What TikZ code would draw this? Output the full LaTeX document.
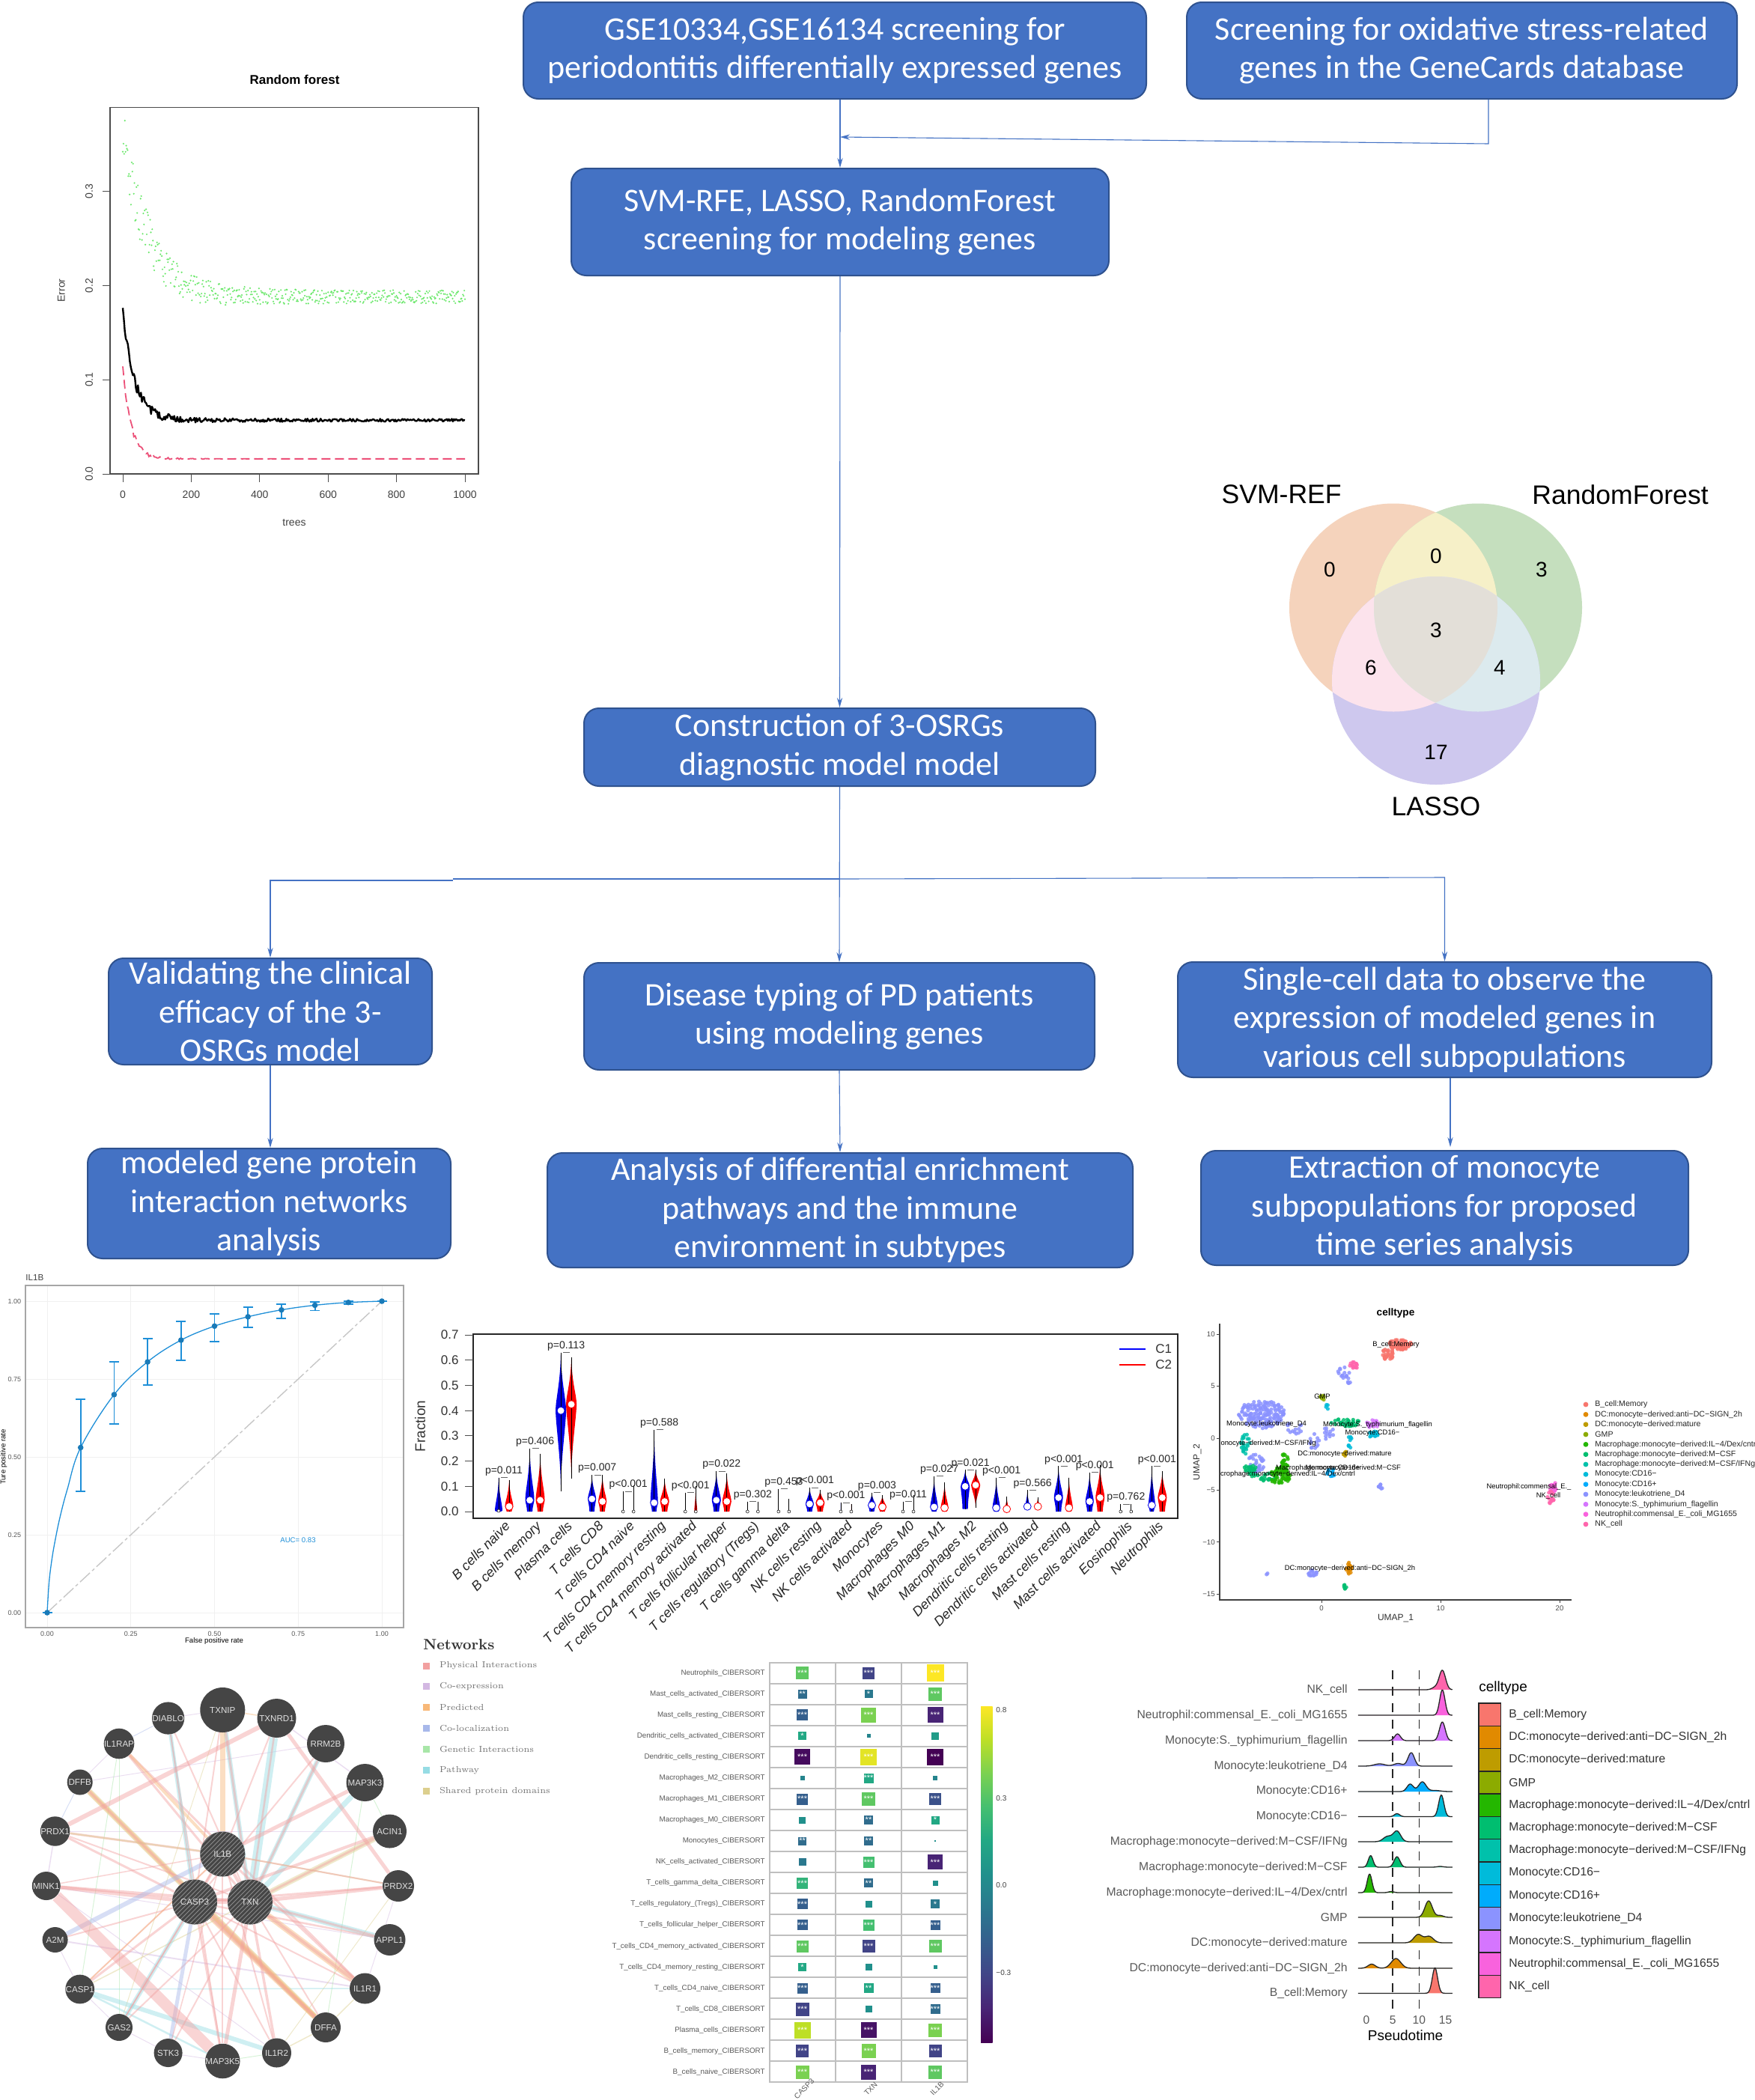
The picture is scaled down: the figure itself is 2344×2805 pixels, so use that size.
\documentclass[tikz,border=0pt]{standalone}
\usepackage{fontspec}
\setsansfont{Liberation Sans}
\newfontfamily\boxfont{Carlito}
\usetikzlibrary{arrows.meta,backgrounds,patterns}
\newcommand{\slh}{/}
\definecolor{boxblue}{HTML}{4472C4}
\definecolor{boxedge}{HTML}{2F528F}
\definecolor{flowblue}{HTML}{4472C4}
\definecolor{V0}{HTML}{440154}\definecolor{V1}{HTML}{482475}\definecolor{V2}{HTML}{414487}
\definecolor{V3}{HTML}{355F8D}\definecolor{V4}{HTML}{2A788E}\definecolor{V5}{HTML}{21908C}
\definecolor{V6}{HTML}{22A884}\definecolor{V7}{HTML}{44BF70}\definecolor{V8}{HTML}{7AD151}
\definecolor{V9}{HTML}{BDDF26}\definecolor{V10}{HTML}{FDE725}
\pgfdeclareverticalshading{viridis}{100bp}{color(0bp)=(V0); color(25bp)=(V0); color(30bp)=(V1); color(35bp)=(V2); color(40bp)=(V3); color(45bp)=(V4); color(50bp)=(V5); color(55bp)=(V6); color(60bp)=(V7); color(65bp)=(V8); color(70bp)=(V9); color(75bp)=(V10); color(100bp)=(V10)}
\definecolor{c1}{HTML}{F8766D}\definecolor{c2}{HTML}{E18A00}\definecolor{c3}{HTML}{BE9C00}
\definecolor{c4}{HTML}{8CAB00}\definecolor{c5}{HTML}{24B700}\definecolor{c6}{HTML}{00BE70}
\definecolor{c7}{HTML}{00C1AB}\definecolor{c8}{HTML}{00BBDA}\definecolor{c9}{HTML}{00ACFC}
\definecolor{c10}{HTML}{8B93FF}\definecolor{c11}{HTML}{D575FE}\definecolor{c12}{HTML}{F962DD}
\definecolor{c13}{HTML}{FF65AC}
\definecolor{ePh}{HTML}{F2A0A0}\definecolor{eCo}{HTML}{D3B8E2}\definecolor{ePr}{HTML}{F8B878}
\definecolor{eLo}{HTML}{A8B8EA}\definecolor{eGe}{HTML}{A8E6A8}\definecolor{ePa}{HTML}{96DCE4}
\definecolor{eSh}{HTML}{DCCF8E}\definecolor{geneDark}{HTML}{454545}
\definecolor{vL}{HTML}{F5D3BC}\definecolor{vR}{HTML}{C5DFBE}\definecolor{vB}{HTML}{CEC8EE}
\definecolor{vLR}{HTML}{F6F0C8}\definecolor{vLB}{HTML}{FCE3EC}\definecolor{vRB}{HTML}{DCEAEE}
\definecolor{vC}{HTML}{E3DFD8}\definecolor{rocblue}{HTML}{1E8FD8}
\definecolor{rfRed}{HTML}{EC5078}\definecolor{rfGreen}{HTML}{6CE86C}
\tikzset{
 flowbox/.style={rectangle,rounded corners=10pt,fill=boxblue,draw=boxedge,line width=1pt,text=white,align=center,inner sep=0pt,font=\boxfont\fontsize{22}{25.7}\selectfont},
 flow/.style={draw=flowblue,line width=0.55pt,-{Stealth[length=6.5pt,width=3.6pt]}},
 flowplain/.style={draw=flowblue,line width=0.55pt},
 gene/.style={circle,fill=geneDark,inner sep=0pt,text=white!88!black,font=\sffamily\fontsize{5.8}{6}\selectfont},
 hubgene/.style={gene,postaction={pattern=north east lines,pattern color=white!55!black}},
 txt/.style={inner sep=0pt,font=\sffamily\fontsize{#1}{#1}\selectfont},
 hmtile/.style={rectangle,inner sep=0pt,text=white,font=\sffamily\fontsize{5.5}{5.5}\selectfont},
 declare function={gs(\a,\m,\s)=exp(-(\a-\m)*(\a-\m)/(2*\s*\s));}
}
\newcommand{\violin}[6]{%
 \pgfmathsetmacro{\vm}{2019-337*#2}\pgfmathsetmacro{\vh}{2019-337*#3}\pgfmathsetmacro{\vl}{2019-337*#4}%
 \pgfmathsetmacro{\vs}{ifthenelse(#4>0.01,0,0.6*#5)}%
 \pgfmathsetmacro{\va}{\vl+(\vm-\vl)*0.4}\pgfmathsetmacro{\vb}{\vl+(\vm-\vl)*0.85}%
 \pgfmathsetmacro{\vc}{\vm+(\vh-\vm)*0.2}\pgfmathsetmacro{\vd}{\vm+(\vh-\vm)*0.45}%
 \fill[#6] (#1-\vs,\vl) -- (#1+\vs,\vl) .. controls (#1+\vs,\va) and (#1+#5,\vb) .. (#1+#5,\vm) .. controls (#1+#5,\vc) and (#1+0.12*#5,\vd) .. (#1,\vh) .. controls (#1-0.12*#5,\vd) and (#1-#5,\vc) .. (#1-#5,\vm) .. controls (#1-#5,\vb) and (#1-\vs,\va) .. cycle;%
 \draw[black,line width=0.4pt] (#1,\vh) -- (#1,\vl);%
 \ifdim #2pt<0.005pt
  \draw[black,fill=white,line width=0.25pt] (#1,\vm) circle[radius=2];
 \else
  \fill[white,draw=#6,line width=0.4pt] (#1,\vm) circle[radius=5];
 \fi}
\newcommand{\cldots}[6]{%
 \foreach \k in {1,...,#1}{%
  \pgfmathsetmacro{\ra}{sqrt(rnd)}\pgfmathsetmacro{\an}{360*rnd}%
  \pgfmathsetmacro{\dx}{1765+15.9*(#2+#4*\ra*cos(\an))}%
  \pgfmathsetmacro{\dy}{1921-13.87*(#3+#5*\ra*sin(\an))}%
  \fill[#6,opacity=0.85] (\dx,\dy) circle[radius=2.6];}}
\begin{document}
\begin{tikzpicture}[x=0.5pt,y=-0.5pt]
\useasboundingbox (0,0) rectangle (2344,2805);
\begin{scope}[on background layer]
\fill[white] (0,0) rectangle (2344,2805);
\end{scope}
\pgfmathsetseed{20240}
%%%%% FLOW BOXES
\node[flowbox,minimum width=416pt,minimum height=64.5pt] (b1) at (1115,67.5) {GSE10334,GSE16134 screening for\\periodontitis differentially expressed genes};
\node[flowbox,minimum width=367.5pt,minimum height=64.5pt] (b2) at (1952.5,67.5) {Screening for oxidative stress-related\\genes in the GeneCards database};
\node[flowbox,minimum width=359pt,minimum height=71.5pt] (b3) at (1122,296.5) {SVM-RFE, LASSO, RandomForest\\screening for modeling genes};
\node[flowbox,minimum width=341.5pt,minimum height=52pt] (b4) at (1121.5,998) {Construction of 3-OSRGs\\diagnostic model model};
\node[flowbox,minimum width=216pt,minimum height=71pt] (bL1) at (361,1351) {Validating the clinical\\efficacy of the 3-\\OSRGs model};
\node[flowbox,minimum width=341pt,minimum height=71.5pt] (bM1) at (1121,1357.5) {Disease typing of PD patients\\using modeling genes};
\node[flowbox,minimum width=356.5pt,minimum height=77pt] (bR1) at (1929.5,1362) {Single-cell data to observe the\\expression of modeled genes in\\various cell subpopulations};
\node[flowbox,minimum width=242.5pt,minimum height=73.5pt] (bL2) at (359.5,1607.5) {modeled gene protein\\interaction networks\\analysis};
\node[flowbox,minimum width=391pt,minimum height=76.5pt] (bM2) at (1122,1616.5) {Analysis of differential enrichment\\pathways and the immune\\environment in subtypes};
\node[flowbox,minimum width=325.5pt,minimum height=76.5pt] (bR2) at (1929.5,1613.5) {Extraction of monocyte\\subpopulations for proposed\\time series analysis};
%%%%% CONNECTORS
\coordinate (j1) at (1122,183);
\coordinate (c2) at (1988,192);
\coordinate (jM) at (1121,1174);
\coordinate (jLm) at (605,1174);
\coordinate (jLn) at (605,1176);
\coordinate (jL) at (361,1176);
\coordinate (jR) at (1929.5,1172);
\coordinate (rr) at (1937,1532);
\draw[flow] (b1.south -| b3.north) -- (b3.north);
\draw[flow] (b2.south -| c2) -- (c2) -- (j1);
\draw[flow] (b3.south) -- (b4.north);
\draw[flow] (b4.south) -- (bM1.north);
\draw[flowplain,line width=1pt] (jM) -- (jLm);
\draw[flow] (jLn) -- (jL) -- (bL1.north);
\draw[flow] (jM) -- (jR) -- (bR1.north);
\draw[flow] (bL1.south) -- (bL1.south |- bL2.north);
\draw[flow] (bM1.south) -- (bM2.north);
\draw[flow] (bR1.south -| rr) -- (rr);
%%%%% RANDOM FOREST
\node[inner sep=0pt,font=\sffamily\bfseries\fontsize{8.5}{8.5}\selectfont] (rfT) at (393.5,106.6) {Random forest};
\draw[black!70,line width=0.7pt] (147,143.7) rectangle (639,633);
\foreach \v in {0,200,...,1000}{
 \pgfmathsetmacro{\xx}{164+0.457*\v}
 \draw[black!70,line width=0.5pt] (\xx,633) -- (\xx,644);
 \node[txt=7,text=black!75] (rfx\v) at (\xx,661) {\v};}
\foreach \v/\lab in {0/0.0,1/0.1,2/0.2,3/0.3}{
 \pgfmathsetmacro{\yy}{633-125.8*\v}
 \draw[black!70,line width=0.5pt] (137,\yy) -- (147,\yy);
 \node[txt=7,text=black!75,rotate=90] (rfy\v) at (119,\yy) {\lab};}
\node[txt=7,text=black!75] (rfX) at (393,698) {trees};
\node[txt=7,text=black!75,rotate=90] (rfY) at (82,388) {Error};
\foreach \k in {0,2,...,1000}{
 \pgfmathsetmacro{\yy}{633-1258*(0.188+0.18*exp(-\k/70)+(0.007+0.03*exp(-\k/150))*(2*rnd-1))}
 \pgfmathsetmacro{\xx}{164+0.457*\k}
 \fill[rfGreen] (\xx,\yy) circle[radius=1.2];}
\draw[black,line width=1.2pt,line join=round] plot[domain=0:1000,samples=340] ({164+0.457*\x},{633-1258*(0.057+0.115*exp(-\x/35)+(0.0015+0.006*exp(-\x/150))*(2*rnd-1))});
\draw[rfRed,line width=0.9pt,dash pattern=on 6pt off 3pt] plot[domain=0:1000,samples=250] ({164+0.457*\x},{633-1258*(0.016+0.1*exp(-\x/24)+0.004*exp(-\x/100)*(2*rnd-1))});
%%%%% VENN
\fill[vL] (1861,811.5) circle[radius=139];
\fill[vR] (1974,811.5) circle[radius=139];
\fill[vB] (1918,909) circle[radius=139];
\begin{scope}\clip (1861,811.5) circle[radius=139];\fill[vLR] (1974,811.5) circle[radius=139];\fill[vLB] (1918,909) circle[radius=139];\end{scope}
\begin{scope}\clip (1974,811.5) circle[radius=139];\fill[vRB] (1918,909) circle[radius=139];\end{scope}
\begin{scope}\clip (1861,811.5) circle[radius=139];\clip (1974,811.5) circle[radius=139];\fill[vC] (1918,909) circle[radius=139];\end{scope}
\node[txt=17.8] (vnL) at (1711.6,660.7) {SVM-REF};
\node[txt=17.8] (vnR) at (2164,661) {RandomForest};
\node[txt=17.8] (vnB) at (1918,1077) {LASSO};
\node[txt=14] (vn1) at (1776,761) {0};
\node[txt=14] (vn2) at (1918,743) {0};
\node[txt=14] (vn3) at (2059,761) {3};
\node[txt=14] (vn4) at (1918,842) {3};
\node[txt=14] (vn5) at (1831,892) {6};
\node[txt=14] (vn6) at (2003,892) {4};
\node[txt=14] (vn7) at (1918,1005) {17};
%%%%% ROC
\foreach \v in {0,0.25,0.5,0.75,1}{
 \pgfmathsetmacro{\xx}{63+447*\v}\pgfmathsetmacro{\yy}{2154-416*\v}
 \draw[black!6,line width=0.4pt] (\xx,1717) -- (\xx,2174);
 \draw[black!6,line width=0.4pt] (34,\yy) -- (539,\yy);}
\draw[black!35,line width=0.6pt] (34,1717) rectangle (539,2174);
\foreach \v/\lab/\nm in {0/0.00/a,0.25/0.25/b,0.5/0.50/c,0.75/0.75/d,1/1.00/e}{
 \pgfmathsetmacro{\xx}{63+447*\v}\pgfmathsetmacro{\yy}{2154-416*\v}
 \node[txt=4.5,text=black!65] (rx\nm) at (\xx,2182) {\lab};
 \node[txt=4.5,text=black!65,anchor=east] (ry\nm) at (28.5,\yy) {\lab};}
\node[txt=5.8,text=black!75,anchor=west] (rT) at (34,1706) {IL1B};
\node[txt=4.8] (rX) at (286,2192.4) {False positive rate};
\node[txt=4.8,rotate=90] (rY) at (5,1946) {Ture positive rate};
\node[txt=4.8,text=rocblue] (rA) at (398,2057) {AUC= 0.83};
\draw[black!22,line width=0.7pt,dash pattern=on 9pt off 2pt on 2pt off 2pt] (63,2154) -- (510,1738);
\draw[rocblue,line width=0.65pt] plot[smooth,tension=0.6] coordinates {(63,2154) (65.5,2114) (69,2085) (73,2061) (80,2027) (90,1989) (107.7,1933.5) (152.4,1862.8) (197.1,1819) (241.8,1790) (286.5,1771.3) (331.2,1758.8) (375.9,1749.6) (420.6,1743.4) (465.3,1739.7) (510,1738)};
\foreach \p/\m/\l/\h in {0/0/0/0,0.1/0.53/0.39/0.685,0.2/0.70/0.605/0.805,0.3/0.805/0.73/0.88,0.4/0.875/0.81/0.935,0.5/0.92/0.87/0.96,0.6/0.95/0.915/0.98,0.7/0.972/0.945/0.99,0.8/0.987/0.97/0.997,0.9/0.996/0.99/1,1/1/1/1}{
 \pgfmathsetmacro{\xx}{63+447*\p}\pgfmathsetmacro{\yl}{2154-416*\l}\pgfmathsetmacro{\yh}{2154-416*\h}\pgfmathsetmacro{\ym}{2154-416*\m}
 \draw[rocblue,line width=0.9pt] (\xx,\yl) -- (\xx,\yh);
 \draw[rocblue,line width=0.9pt] (\xx-6.5,\yl) -- (\xx+6.5,\yl);
 \draw[rocblue,line width=0.9pt] (\xx-6.5,\yh) -- (\xx+6.5,\yh);
 \fill[rocblue!85!black] (\xx,\ym) circle[radius=3.8];}
%%%%% VIOLIN
\draw[black!85,line width=1pt] (632,1782) rectangle (1573,2028);
\foreach \v/\lab in {0/0.0,1/0.1,2/0.2,3/0.3,4/0.4,5/0.5,6/0.6,7/0.7}{
 \pgfmathsetmacro{\yy}{2019-33.7*\v}
 \draw[black!70,line width=0.5pt] (621,\yy) -- (632,\yy);
 \node[txt=8.5,text=black!80,anchor=east] (vy\v) at (613,\yy) {\lab};}
\node[txt=9.5,text=black!80,rotate=90] (vY) at (561,1905) {Fraction};
\draw[blue,line width=1.3pt] (1495,1802) -- (1530,1802);
\draw[red,line width=1.3pt] (1495,1823) -- (1530,1823);
\node[txt=8.5,anchor=west,text=black!80] (vC1) at (1543,1802) {C1};
\node[txt=8.5,anchor=west,text=black!80] (vC2) at (1543,1823) {C2};
\foreach \vi/\vbm/\vbh/\vbl/\vbw/\vrm/\vrh/\vrl/\vrw/\vpl in {
 0/0.003/0.135/0/5/0.02/0.125/0/5.5/p=0.011,
 1/0.045/0.25/0/6/0.045/0.23/0/6/p=0.406,
 2/0.40/0.63/0.08/7/0.425/0.61/0.13/7/p=0.113,
 3/0.05/0.145/0/5.5/0.04/0.145/0/5.5/p=0.007,
 4/0/0.08/0/0/0/0.105/0/0/p<0.001,
 5/0.035/0.325/0/5/0.04/0.13/0/6/p=0.588,
 6/0/0.075/0/0/0/0.10/0/2/p<0.001,
 7/0.045/0.16/0/6/0.04/0.15/0/6/p=0.022,
 8/0/0.04/0/0/0/0.04/0/0/p=0.302,
 9/0/0.09/0/0/0/0.05/0/0/p=0.453,
 10/0.03/0.095/0/5.5/0.035/0.085/0/6/p<0.001,
 11/0/0.035/0/0/0/0.03/0/0/p<0.001,
 12/0.025/0.075/0/5/0.018/0.065/0/5.5/p=0.003,
 13/0/0.04/0/0/0/0.065/0/0/p=0.011,
 14/0.018/0.14/0/5/0.015/0.115/0/5/p=0.027,
 15/0.10/0.165/0.01/6/0.105/0.165/0.015/6/p=0.021,
 16/0.015/0.135/0/5/0.01/0.06/0/2.5/p<0.001,
 17/0.02/0.085/0.01/3/0.02/0.055/0.01/3/p=0.566,
 18/0.055/0.18/0/6/0.015/0.135/0/5/p<0.001,
 19/0.04/0.155/0/5.5/0.055/0.185/0/6/p<0.001,
 20/0/0.03/0/0/0/0.03/0/0/p=0.762,
 21/0.025/0.18/0/4.5/0.055/0.16/0/6/p<0.001}{
 \pgfmathsetmacro{\xb}{666+41.54*\vi}\pgfmathsetmacro{\xr}{\xb+14}
 \violin{\xb}{\vbm}{\vbh}{\vbl}{\vbw}{blue!90!black}
 \violin{\xr}{\vrm}{\vrh}{\vrl}{\vrw}{red}
 \pgfmathsetmacro{\ybr}{2019-337*\vbh}\pgfmathsetmacro{\xc}{\xb+7}
 \draw[black!60,line width=0.4pt] (\xb+3,\ybr) -- (\xr-2,\ybr);
 \node[txt=7,text=black!85,anchor=south] (vp\vi) at (\xc,\ybr-2) {\vpl};
}
\foreach \vi/\vlab in {0/B cells naive,1/B cells memory,2/Plasma cells,3/T cells CD8,4/T cells CD4 naive,5/T cells CD4 memory resting,6/T cells CD4 memory activated,7/T cells follicular helper,8/T cells regulatory (Tregs),9/T cells gamma delta,10/NK cells resting,11/NK cells activated,12/Monocytes,13/Macrophages M0,14/Macrophages M1,15/Macrophages M2,16/Dendritic cells resting,17/Dendritic cells activated,18/Mast cells resting,19/Mast cells activated,20/Eosinophils,21/Neutrophils}{
 \pgfmathsetmacro{\xx}{673+41.54*\vi}
 \node[inner sep=0pt,anchor=north east,rotate=45,font=\sffamily\itshape\fontsize{9}{9}\selectfont,text=black!85] (vx\vi) at (\xx,2030) {\vlab};}
%%%%% UMAP
\cldots{60}{6.6}{9.0}{1.0}{0.5}{c1}
\cldots{30}{5.6}{8.1}{0.55}{0.55}{c1}
\cldots{14}{2.7}{7.0}{0.45}{0.35}{c13}
\cldots{14}{1.9}{6.3}{0.55}{0.55}{c10}
\cldots{5}{2.3}{5.5}{0.15}{0.3}{c10}
\cldots{7}{0.1}{3.9}{0.2}{0.3}{c4}
\cldots{4}{0.5}{3.1}{0.15}{0.3}{c8}
\cldots{170}{-5}{2.3}{2.0}{1.35}{c10}
\cldots{14}{-2.3}{0.9}{0.9}{0.6}{c10}
\cldots{12}{-0.6}{-0.3}{0.5}{0.9}{c10}
\cldots{12}{0.6}{0.6}{0.5}{0.8}{c10}
\cldots{30}{-5.5}{-2.4}{0.7}{0.9}{c10}
\cldots{24}{-6.4}{-0.5}{0.4}{1.1}{c7}
\cldots{24}{-6.0}{-3.0}{0.5}{0.5}{c6}
\cldots{24}{-4.8}{-3.7}{1.1}{0.4}{c6}
\cldots{70}{-3.5}{-3.6}{0.9}{0.8}{c5}
\cldots{24}{-3.1}{-2.2}{0.3}{1.0}{c5}
\cldots{36}{2.0}{1.5}{1.2}{0.4}{c6}
\cldots{18}{4.3}{1.4}{0.55}{0.4}{c11}
\cldots{16}{4.3}{0.4}{0.5}{0.3}{c8}
\cldots{5}{2.4}{0.1}{0.15}{0.3}{c8}
\cldots{4}{2.3}{-0.9}{0.15}{0.3}{c8}
\cldots{8}{2.0}{-1.5}{0.3}{0.2}{c3}
\cldots{10}{0.8}{-3.3}{0.4}{0.4}{c9}
\cldots{8}{5}{-4.7}{0.25}{0.25}{c10}
\cldots{20}{19.4}{-4.7}{0.4}{0.5}{c12}
\cldots{18}{19.3}{-5.7}{0.35}{0.6}{c13}
\cldots{18}{2.3}{-12.5}{0.25}{0.6}{c2}
\cldots{6}{2.0}{-14.3}{0.12}{0.3}{c6}
\cldots{14}{-0.8}{-13}{0.4}{0.3}{c10}
\cldots{2}{-4.6}{-13}{0.1}{0.12}{c10}
\draw[black!75,line width=0.6pt] (1629,1768) -- (1629,2137) -- (2099,2137);
\foreach \v/\lab in {10/10,5/5,0/0,-5/−5,-10/−10,-15/−15}{
 \pgfmathsetmacro{\yy}{1921-13.87*\v}
 \draw[black!75,line width=0.4pt] (1625,\yy) -- (1629,\yy);
 \node[txt=4.8,text=black!70,anchor=east] (uy\v) at (1623,\yy) {\lab};}
\foreach \v in {0,10,20}{
 \pgfmathsetmacro{\xx}{1765+15.9*\v}
 \draw[black!75,line width=0.4pt] (\xx,2137) -- (\xx,2141);
 \node[txt=4.8,text=black!70] (ux\v) at (\xx,2148) {\v};}
\node[inner sep=0pt,font=\sffamily\bfseries\fontsize{6.8}{6.8}\selectfont] (uT) at (1864,1754) {celltype};
\node[txt=6,text=black!80] (uX) at (1864,2162) {UMAP\_1};
\node[txt=6,text=black!80,rotate=90] (uY) at (1599,1953) {UMAP\_2};
\node[txt=4.7] (ul1) at (1864.5,1796) {B\_cell:Memory};
\node[txt=4.7] (ul2) at (1766,1865) {GMP};
\node[txt=4.7] (ul3) at (1691.5,1902) {Monocyte:leukotriene\_D4};
\node[txt=4.7] (ul4) at (1840,1903) {Monocyte:S.\_typhimurium\_flagellin};
\node[txt=4.7] (ul5) at (1833,1914) {Monocyte:CD16−};
\node[txt=4.7] (ul6) at (1694,1928) {onocyte−derived:M−CSF/IFNg};
\node[txt=4.7] (ul7) at (1796,1942) {DC:monocyte−derived:mature};
\node[txt=4.7] (ul8) at (1787.5,1961) {Macrophage:monocyte−derived:M−CSF};
\node[txt=4.7] (ul9) at (1780,1961) {Monocyte:CD16+};
\node[txt=4.7] (ul10) at (1720,1969) {crophage:monocyte−derived:IL−4/Dex/cntrl};
\node[txt=4.7] (ul11) at (2042,1986) {Neutrophil:commensal\_E.\_};
\node[txt=4.7] (ul12) at (2068,1998) {NK\_cell};
\node[txt=4.7] (ul13) at (1803,2095) {DC:monocyte−derived:anti−DC−SIGN\_2h};
\foreach \i/\col/\lab in {0/c1/B\_cell:Memory,1/c2/DC:monocyte−derived:anti−DC−SIGN\_2h,2/c3/DC:monocyte−derived:mature,3/c4/GMP,4/c5/Macrophage:monocyte−derived:IL−4\slh Dex\slh cntrl,5/c6/Macrophage:monocyte−derived:M−CSF,6/c7/Macrophage:monocyte−derived:M−CSF\slh IFNg,7/c8/Monocyte:CD16−,8/c9/Monocyte:CD16+,9/c10/Monocyte:leukotriene\_D4,10/c11/Monocyte:S.\_typhimurium\_flagellin,11/c12/Neutrophil:commensal\_E.\_coli\_MG1655,12/c13/NK\_cell}{
 \pgfmathsetmacro{\yy}{1876+13.33*\i}
 \fill[color=\col] (2118,\yy) circle[radius=3.4];
 \node[txt=5.3,text=black!85,anchor=west] (ulg\i) at (2130,\yy) {\lab};}
%%%%% GENE NETWORK
\node[hubgene,minimum size=30pt] (IL1B) at (297.3,2476.5) {IL1B};
\node[hubgene,minimum size=30pt] (CASP3) at (260,2540.5) {CASP3};
\node[hubgene,minimum size=30pt] (TXN) at (334,2540.5) {TXN};
\node[gene,minimum size=30pt] (TXNIP) at (297.3,2284) {TXNIP};
\node[gene,minimum size=26pt] (TXNRD1) at (369.5,2295) {TXNRD1};
\node[gene,minimum size=25pt] (RRM2B) at (435,2329) {RRM2B};
\node[gene,minimum size=25pt] (MAP3K3) at (487.5,2381) {MAP3K3};
\node[gene,minimum size=22.5pt] (ACIN1) at (520.5,2446) {ACIN1};
\node[gene,minimum size=21pt] (PRDX2) at (532,2519) {PRDX2};
\node[gene,minimum size=21pt] (APPL1) at (520.5,2591) {APPL1};
\node[gene,minimum size=20.5pt] (IL1R1) at (487.5,2656) {IL1R1};
\node[gene,minimum size=20pt] (DFFA) at (435,2708) {DFFA};
\node[gene,minimum size=19.5pt] (IL1R2) at (369.5,2742) {IL1R2};
\node[gene,minimum size=19pt] (MAP3K5) at (297.3,2753) {MAP3K5};
\node[gene,minimum size=19pt] (STK3) at (224.6,2742) {STK3};
\node[gene,minimum size=18pt] (GAS2) at (159,2708) {GAS2};
\node[gene,minimum size=18pt] (CASP1) at (106.7,2657) {CASP1};
\node[gene,minimum size=17pt] (A2M) at (73.6,2591) {A2M};
\node[gene,minimum size=19pt] (MINK1) at (61.8,2519) {MINK1};
\node[gene,minimum size=19pt] (PRDX1) at (73.6,2446) {PRDX1};
\node[gene,minimum size=17pt] (DFFB) at (106.7,2380.5) {DFFB};
\node[gene,minimum size=17pt] (IL1RAP) at (159,2329) {IL1RAP};
\node[gene,minimum size=17pt] (DIABLO) at (224.6,2295) {DIABLO};
\begin{scope}[on background layer]
\foreach \ea/\eb/\ew/\ec in {
 DIABLO/TXNIP/1/eCo,TXNIP/TXNRD1/1.5/ePr,TXNRD1/MAP3K3/1.5/eCo,MAP3K3/ACIN1/1/eGe,IL1R1/DFFA/1.5/eSh,DFFA/IL1R2/1.5/eSh,MAP3K5/IL1R2/1/eGe,MAP3K5/STK3/1/eCo,GAS2/STK3/1/eCo,CASP1/GAS2/1/eCo,A2M/CASP1/1/eCo,MINK1/PRDX1/1.5/eCo,PRDX1/DFFB/1/eLo,DFFB/IL1RAP/1/eCo,IL1RAP/DIABLO/1/eLo,
 A2M/IL1R1/2/eCo,PRDX2/IL1R1/1/eCo,PRDX1/ACIN1/1/eCo,DFFB/RRM2B/1/eCo,MINK1/APPL1/1/eCo,IL1RAP/CASP1/1/eGe,IL1RAP/GAS2/1/eGe,DIABLO/MAP3K5/2/ePh,TXNIP/GAS2/1/eSh,MAP3K3/DFFA/1/eGe,PRDX2/IL1R2/1/eSh,CASP1/IL1R1/1.5/ePa,MINK1/IL1R2/1/eCo,
 DFFB/DFFA/8/eSh,DFFB/DFFA/6/ePr,DFFB/DFFA/3/ePh,CASP3/DFFA/7/ePr,CASP3/DFFA/4/ePh,TXN/IL1R1/8/ePr,TXN/IL1R1/4/ePh,IL1RAP/IL1R1/3/ePh,IL1RAP/IL1B/4/ePr,IL1RAP/TXN/3/ePh,
 PRDX1/CASP3/3/ePh,PRDX1/IL1B/3/ePh,PRDX1/IL1B/2/eSh,PRDX1/TXN/2/ePh,MINK1/CASP3/5/ePh,MINK1/TXN/4/ePh,MINK1/IL1B/1.5/ePh,
 TXNIP/TXN/6/ePa,TXNIP/TXN/3/ePh,TXNIP/IL1B/7/ePr,TXNIP/CASP3/2/ePh,TXNRD1/TXN/11/ePa,TXNRD1/TXN/2.5/ePh,TXNRD1/IL1B/2/ePh,RRM2B/TXN/6/ePa,RRM2B/TXN/3/ePh,RRM2B/CASP3/2/ePh,
 MAP3K3/TXN/7/ePa,MAP3K3/IL1B/5/ePh,ACIN1/TXN/7/eSh,ACIN1/TXN/3/ePh,ACIN1/CASP3/4/ePh,PRDX2/TXN/5/ePh,PRDX2/CASP3/3/ePh,PRDX2/IL1B/2/eSh,PRDX2/IL1B/2/ePh,
 APPL1/TXN/7/ePa,APPL1/TXN/3/ePh,APPL1/CASP3/2.5/ePh,A2M/IL1B/6/eLo,A2M/CASP3/2/ePh,CASP1/CASP3/3/ePh,CASP1/IL1B/2/ePh,CASP1/IL1B/1.5/ePr,CASP1/TXN/1.5/eSh,CASP1/IL1R2/6/ePa,CASP1/MAP3K5/2.5/ePa,
 GAS2/CASP3/6/ePa,GAS2/CASP3/2/ePh,GAS2/TXN/2/ePh,GAS2/IL1B/1.5/ePh,STK3/CASP3/5/eLo,STK3/TXN/2/ePh,STK3/IL1B/1.5/ePh,MAP3K5/TXN/5/ePh,MAP3K5/CASP3/3/ePh,MAP3K5/IL1B/2/ePh,IL1R2/TXN/3.5/ePh,IL1R2/CASP3/2/ePh,IL1R2/IL1B/2/ePh,DFFA/TXN/2/ePh,IL1R1/IL1B/3/ePh,IL1R1/CASP3/2/ePh,DIABLO/CASP3/5/ePa,DIABLO/CASP3/1.5/ePh,DIABLO/TXN/2/ePh,IL1B/TXN/4/ePh,IL1B/CASP3/4/ePh,CASP3/TXN/5/ePh,
 MINK1/MAP3K5/15/ePh,TXNRD1/PRDX1/6/ePh,TXNRD1/PRDX2/5/ePh}{
 \draw[draw=\ec,line width=\ew*0.5pt,opacity=0.45] (\ea) -- (\eb);}
\end{scope}
\node[inner sep=0pt,anchor=west,font=\rmfamily\bfseries\fontsize{10}{10}\selectfont,text=black!80] (nT) at (565,2197) {Networks};
\foreach \i/\col/\lab in {0/ePh/Physical Interactions,1/eCo/Co-expression,2/ePr/Predicted,3/eLo/Co-localization,4/eGe/Genetic Interactions,5/ePa/Pathway,6/eSh/Shared protein domains}{
 \pgfmathsetmacro{\yy}{2225+27.85*\i}
 \fill[color=\col] (565,\yy-4.5) rectangle (574,\yy+4.5);
 \node[inner sep=0pt,anchor=west,font=\rmfamily\fontsize{5.8}{5.8}\selectfont,text=black!55] (nl\i) at (586.6,\yy) {\lab};}
%%%%% HEATMAP
\draw[black!25,line width=1pt] (1028,2221) rectangle (1292,2781);
\foreach \g in {1116,1204}{\draw[black!25,line width=1pt] (\g,2221) -- (\g,2781);}
\foreach \g in {1,...,19}{\pgfmathsetmacro{\yy}{2221+28.0*\g}\draw[black!25,line width=1pt] (1028,\yy) -- (1292,\yy);}
\foreach \r/\lab/\hsa/\hca/\hta/\hsb/\hcb/\htb/\hsc/\hcc/\htc in {
 0/Neutrophils\_CIBERSORT/17.5/V7!50!V8/***/16/V2/***/23/V10/***,
 1/Mast\_cells\_activated\_CIBERSORT/12/V3!50!V4/**/11/V4/*/18/V7!50!V8/***,
 2/Mast\_cells\_resting\_CIBERSORT/15/V3/***/20/V8/***/21/V1/***,
 3/Dendritic\_cells\_activated\_CIBERSORT/11/V6/*/5/V4!50!V5/{}/10/V5!50!V6/{},
 4/Dendritic\_cells\_resting\_CIBERSORT/21/V0!70!V1/***/22/V10!60!V9/***/22/V0/***,
 5/Macrophages\_M2\_CIBERSORT/6/V4!50!V5/{}/13/V6/***/6/V4!50!V5/{},
 6/Macrophages\_M1\_CIBERSORT/15/V3/***/18/V7!50!V8/***/16/V2!50!V3/***,
 7/Macrophages\_M0\_CIBERSORT/9/V5/{}/12/V3!50!V4/**/11/V6/*,
 8/Monocytes\_CIBERSORT/11/V3!50!V4/**/12/V3!50!V4/**/2.5/V5/{},
 9/NK\_cells\_activated\_CIBERSORT/10/V4/{}/15/V7/***/20/V1/***,
 10/T\_cells\_gamma\_delta\_CIBERSORT/15/V6!50!V7/***/12/V3!50!V4/**/7/V5/{},
 11/T\_cells\_regulatory\_(Tregs)\_CIBERSORT/14/V3/***/9/V5/{}/12/V4/*,
 12/T\_cells\_follicular\_helper\_CIBERSORT/14/V3/***/15/V7/***/13/V3/***,
 13/T\_cells\_CD4\_memory\_activated\_CIBERSORT/16/V7!50!V8/***/17/V2/***/17/V7!50!V8/***,
 14/T\_cells\_CD4\_memory\_resting\_CIBERSORT/11/V6/*/9/V5/{}/5/V5/{},
 15/T\_cells\_CD4\_naive\_CIBERSORT/14/V3/***/13/V6/**/13/V3/***,
 16/T\_cells\_CD8\_CIBERSORT/18/V2/***/9/V5/{}/13/V3!50!V4/***,
 17/Plasma\_cells\_CIBERSORT/22/V9/***/21/V0!50!V1/***/18/V8/***,
 18/B\_cells\_memory\_CIBERSORT/17/V2/***/19/V8/***/17/V2/***,
 19/B\_cells\_naive\_CIBERSORT/18/V8/***/20/V1/***/18/V7!50!V8/***}{
 \pgfmathsetmacro{\yy}{2234.7+28.06*\r}
 \node[txt=4.9,text=black!65,anchor=east] (hl\r) at (1022,\yy) {\lab};
 \node[hmtile,fill=\hca,minimum size=\hsa*0.5pt] (hA\r) at (1071.6,\yy) {\hta};
 \node[hmtile,fill=\hcb,minimum size=\hsb*0.5pt] (hB\r) at (1160,\yy) {\htb};
 \node[hmtile,fill=\hcc,minimum size=\hsc*0.5pt] (hC\r) at (1249,\yy) {\htc};}
\node[txt=5,text=black!65,rotate=45] (hx1) at (1074,2790) {CASP3};
\node[txt=5,text=black!65,rotate=45] (hx2) at (1163,2790) {TXN};
\node[txt=5,text=black!65,rotate=45] (hx3) at (1251.5,2790) {IL1B};
\shade[shading=viridis] (1310,2279) rectangle (1325.5,2728);
\node[txt=5,text=black!75,anchor=west] (hc1) at (1330,2284) {0.8};
\node[txt=5,text=black!75,anchor=west] (hc2) at (1330,2402) {0.3};
\node[txt=5,text=black!75,anchor=west] (hc3) at (1330,2518.5) {0.0};
\node[txt=5,text=black!75,anchor=west] (hc4) at (1330,2635) {−0.3};
%%%%% RIDGES
\foreach \g in {1860,1895.5}{\draw[black!85,line width=0.6pt,dash pattern=on 6pt off 5pt] (\g,2231) -- (\g,2684);}
\foreach \rb/\col/\rexpr in {
 2257/c13/{26*gs(\x,14.4,0.6)+3*gs(\x,13,0.6)},
 2291/c12/{34*gs(\x,14.4,0.5)},
 2325/c11/{25*gs(\x,14.4,0.55)+9*gs(\x,5.9,0.55)},
 2359/c10/{18*gs(\x,8.5,0.6)+3*gs(\x,2.5,1)+3.5*gs(\x,6,0.8)},
 2393/c9/{10*gs(\x,8.3,0.6)+13*gs(\x,10.6,0.7)+1.5*gs(\x,13,1)},
 2426.5/c8/{29*gs(\x,14.2,0.5)+4*gs(\x,5.8,0.5)},
 2460/c7/{14*gs(\x,5.8,0.7)+7*gs(\x,4,0.8)},
 2494/c6/{15.5*gs(\x,0.8,0.45)+14*gs(\x,5.8,0.55)+1*gs(\x,14,0.6)},
 2528/c5/{25*gs(\x,0.6,0.45)+1.5*gs(\x,4.7,0.5)},
 2561/c4/{22*gs(\x,11.8,0.7)+2.5*gs(\x,14,0.6)},
 2595/c3/{11*gs(\x,9.8,0.8)+8.5*gs(\x,11.9,0.8)},
 2629/c2/{5.5*gs(\x,1,0.7)+13*gs(\x,5.6,0.9)},
 2662.4/c1/{34*gs(\x,13,0.5)}}{
 \filldraw[fill=\col,draw=black!85,line width=0.65pt,line join=round] plot[domain=-1.6:16.3,samples=110] ({1825+7.04*\x},{\rb-(\rexpr)});
}
\foreach \i/\rb/\lab in {0/2257/NK\_cell,1/2291/Neutrophil:commensal\_E.\_coli\_MG1655,2/2325/Monocyte:S.\_typhimurium\_flagellin,3/2359/Monocyte:leukotriene\_D4,4/2393/Monocyte:CD16+,5/2426.5/Monocyte:CD16−,6/2460/Macrophage:monocyte−derived:M−CSF\slh IFNg,7/2494/Macrophage:monocyte−derived:M−CSF,8/2528/Macrophage:monocyte−derived:IL−4\slh Dex\slh cntrl,9/2561/GMP,10/2595/DC:monocyte−derived:mature,11/2629/DC:monocyte−derived:anti−DC−SIGN\_2h,12/2662.4/B\_cell:Memory}{
 \node[txt=7.85,text=black!65,anchor=east] (rl\i) at (1800,\rb) {\lab};}
\foreach \v in {0,5,10,15}{
 \pgfmathsetmacro{\xx}{1825+7.04*\v}
 \node[txt=7.8,text=black!65] (rt\v) at (\xx,2698) {\v};}
\node[txt=9.5] (rP) at (1877,2719) {Pseudotime};
\node[txt=9.5,anchor=west] (rC) at (1975,2255) {celltype};
\foreach \i/\col/\lab in {0/c1/B\_cell:Memory,1/c2/DC:monocyte−derived:anti−DC−SIGN\_2h,2/c3/DC:monocyte−derived:mature,3/c4/GMP,4/c5/Macrophage:monocyte−derived:IL−4\slh Dex\slh cntrl,5/c6/Macrophage:monocyte−derived:M−CSF,6/c7/Macrophage:monocyte−derived:M−CSF\slh IFNg,7/c8/Monocyte:CD16−,8/c9/Monocyte:CD16+,9/c10/Monocyte:leukotriene\_D4,10/c11/Monocyte:S.\_typhimurium\_flagellin,11/c12/Neutrophil:commensal\_E.\_coli\_MG1655,12/c13/NK\_cell}{
 \pgfmathsetmacro{\yy}{2275+30.28*\i}\pgfmathsetmacro{\ye}{\yy+30.28}\pgfmathsetmacro{\ym}{\yy+15.14}
 \filldraw[fill=\col,draw=black!85,line width=0.7pt] (1975,\yy) rectangle (2004.4,\ye);
 \node[txt=7.85,text=black!80,anchor=west] (rg\i) at (2015,\ym) {\lab};}
\end{tikzpicture}
\end{document}
